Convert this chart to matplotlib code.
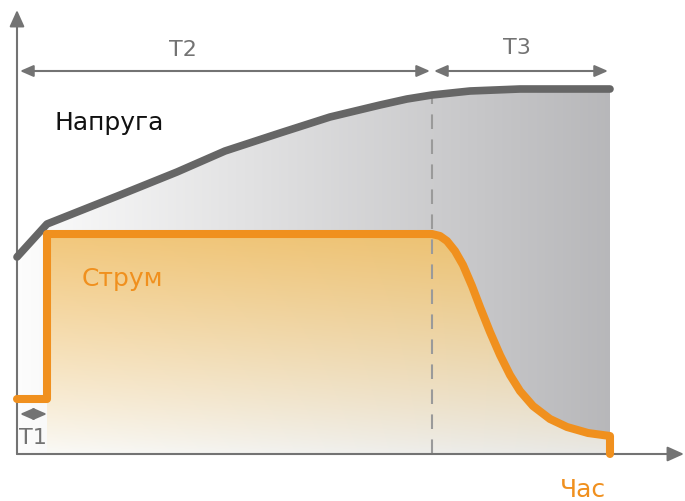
import numpy as np
import matplotlib
matplotlib.use("Agg")
import matplotlib.pyplot as plt
from matplotlib.path import Path
from matplotlib.patches import PathPatch

# origin of the chart sits at (0, 0); x = time, y = level (schematic units)
volt_t = [0, 30, 103, 160, 208, 263, 313, 363, 390, 415, 453, 503, 593]
volt_v = [197, 230, 259, 282, 303, 321, 337, 349, 355, 359, 363, 365, 365]

cur_t = [0, 30, 30, 415, 423, 430, 438, 446, 455, 463, 473, 483, 493, 503,
         516, 533, 550, 571, 593, 593]
cur_v = [55, 55, 220, 220, 218, 213, 203, 189, 168, 147, 122, 99, 79, 63,
         48, 35, 27, 21, 18, 0]

t1_end = 30
t2_end = 415
t3_end = 591
t_labels = ["T1", "T2", "T3"]

axis_col = "#737373"
orange = "#f0901e"
dark = "#666666"

fig = plt.figure(figsize=(6.85, 5.02), dpi=100)
ax = fig.add_axes([0, 0, 1, 1])
ax.set_xlim(-17, 668)
ax.set_ylim(-47, 455)
ax.axis("off")

# grey fill under voltage, horizontal gradient
gx = np.linspace(0, 1, 256)
grey = np.zeros((2, 256, 3))
for k in range(3):
    grey[:, :, k] = (1 - gx) * 0.99 + gx * np.array([0.72, 0.72, 0.73])[k]
im = ax.imshow(grey, extent=(0, volt_t[-1], 0, 370), origin="lower",
               aspect="auto", zorder=1, interpolation="bilinear")
vpoly = list(zip(volt_t, volt_v)) + [(volt_t[-1], 0), (0, 0)]
vpatch = PathPatch(Path(vpoly), facecolor="none", edgecolor="none")
ax.add_patch(vpatch)
im.set_clip_path(vpatch)

# orange fill under current: orange on top, fading to light grey at the bottom
ny, nx = 256, 64
fy = np.linspace(0, 1, ny)[:, None] ** 0.9
fx = np.linspace(0, 1, nx)[None, :]
base = np.stack([0.98 - 0.07 * fx, 0.98 - 0.07 * fx, 0.97 - 0.07 * fx], axis=-1)
top = np.stack([0.95 - 0.03 * fx, 0.78 - 0.03 * fx, 0.48 - 0.05 * fx], axis=-1)
org = base * (1 - fy[..., None]) + top * fy[..., None]
im2 = ax.imshow(org, extent=(t1_end, cur_t[-1], 0, 222), origin="lower",
                aspect="auto", zorder=2, interpolation="bilinear")
cpoly = list(zip(cur_t[2:], cur_v[2:])) + [(t1_end, 0)]
cpatch = PathPatch(Path(cpoly), facecolor="none", edgecolor="none")
ax.add_patch(cpatch)
im2.set_clip_path(cpatch)

# dashed divider between T2 and T3
ax.plot([t2_end, t2_end], [0, 360], color="#9a9a9a", lw=1.5,
        dashes=(7, 5), zorder=3)

# axes with arrows
ax.annotate("", xy=(667, 0), xytext=(0, 0), zorder=4,
            arrowprops=dict(arrowstyle="-|>,head_length=1.0,head_width=0.45",
                            color=axis_col, lw=1.5, shrinkA=0, shrinkB=0))
ax.annotate("", xy=(0, 444), xytext=(0, 0), zorder=4,
            arrowprops=dict(arrowstyle="-|>,head_length=1.0,head_width=0.45",
                            color=axis_col, lw=1.5, shrinkA=0, shrinkB=0))

# curves
ax.plot(volt_t, volt_v, color=dark, lw=5.5, solid_capstyle="round",
        solid_joinstyle="round", zorder=5)
ax.plot(cur_t, cur_v, color=orange, lw=5.8, solid_capstyle="round",
        solid_joinstyle="round", zorder=6)

# interval arrows
def span(x0, x1, y):
    ax.annotate("", xy=(x1, y), xytext=(x0, y), zorder=7,
                arrowprops=dict(arrowstyle="<|-|>,head_length=0.8,head_width=0.35",
                                color=axis_col, lw=1.5, shrinkA=0, shrinkB=0))

span(3, t1_end, 40)
span(3, t2_end - 2, 383)
span(t2_end + 2, t3_end, 383)

font = "DejaVu Sans"
ax.text(t1_end / 2 + 1, 17, t_labels[0], ha="center", va="center",
        fontsize=16, color=axis_col, family=font)
ax.text(166, 405, t_labels[1], ha="center", va="center",
        fontsize=16, color=axis_col, family=font)
ax.text(500, 407, t_labels[2], ha="center", va="center",
        fontsize=16, color=axis_col, family=font)

ax.text(38, 332, "Напруга", ha="left", va="center", fontsize=18,
        color="#111111", family=font)
ax.text(65, 176, "Струм", ha="left", va="center", fontsize=18,
        color=orange, family=font)
ax.text(566, -35, "Час", ha="center", va="center", fontsize=18,
        color=orange, family=font)

fig.savefig("out.png", dpi=100)
